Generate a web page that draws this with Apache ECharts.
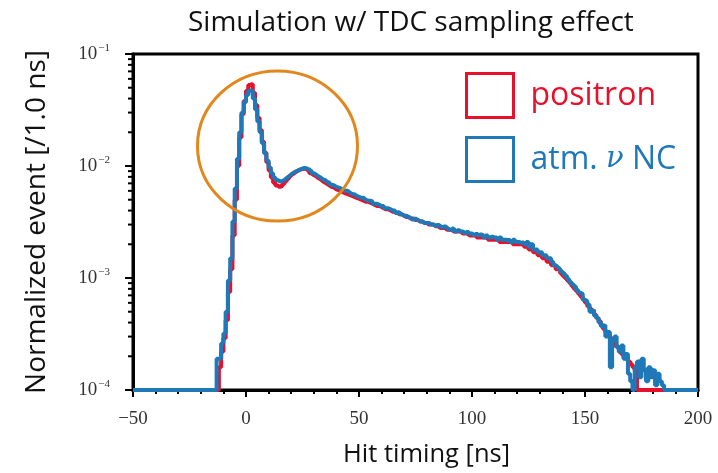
<!DOCTYPE html>
<html><head><meta charset="utf-8">
<script src="https://cdn.jsdelivr.net/npm/echarts@6/dist/echarts.min.js"></script>
<style>html,body{margin:0;padding:0;background:#fff}#c{width:718px;height:473px}</style>
</head><body><div id="c"></div>
<script>
// ---- data (1 ns bins, value = bin content starting at bin lower edge) ----
const xMin = -50, xMax = 200, xInterval = 50;
const yMin = 1e-4, yMax = 1e-1;
const titleText = 'Simulation w/ TDC sampling effect';
const xTitle = 'Hit timing [ns]';
const yTitle = 'Normalized event [/1.0 ns]';
const seriesNames = ['positron', 'atm. ν NC'];

const positronStart = -12;
const positron = [
  1.6e-4, 2.2e-4, 2.9e-4, 4.2e-4, 7.5e-4, 1.2e-3, 2.4e-3, 5.0e-3, 0.0100, 0.018,
  0.029, 0.038, 0.047, 0.053, 0.054, 0.045, 0.035, 0.027, 0.021, 0.0165,
  0.0132, 0.0108, 0.0091, 0.0079, 0.0071, 0.0067, 0.0065, 0.0066, 0.0069, 0.0073,
  0.0077, 0.0081, 0.0085, 0.0088, 0.0091, 0.0093, 0.0094, 0.0095, 0.0093, 0.0090,
  0.0086, 0.0083,
  // 30..
  0.0081, 0.0078, 0.0076, 0.0073, 0.0071, 0.0069, 0.0067, 0.0065, 0.0064, 0.0062,
  0.0061, 0.0060, 0.0058, 0.0057, 0.0056, 0.0055, 0.0054, 0.0053, 0.0052, 0.0051,
  0.0050, 0.0049, 0.0048, 0.0048, 0.0047, 0.0046, 0.0045, 0.0044, 0.0044, 0.0043,
  0.0042, 0.0041, 0.0041, 0.0040, 0.0039, 0.0039, 0.0038, 0.0037, 0.0037, 0.0036,
  0.0035, 0.0035, 0.0034, 0.0034, 0.0033, 0.0033, 0.0032, 0.0032, 0.0031, 0.0031,
  // 80..
  0.0030, 0.0030, 0.0030, 0.0029, 0.0029, 0.0028, 0.0028, 0.0028, 0.0027, 0.0027,
  0.0027, 0.0026, 0.0026, 0.0026, 0.0026, 0.0025, 0.0025, 0.0025, 0.0024, 0.0024,
  0.0024, 0.0024, 0.0023, 0.0023, 0.0023, 0.0023, 0.0023, 0.0022, 0.0022, 0.0022,
  0.0022, 0.0022, 0.0021, 0.0021, 0.0021, 0.0021, 0.0021, 0.0021, 0.0020, 0.0020,
  0.0020, 0.0020, 0.0020, 0.0019, 0.0019, 0.0018, 0.0018, 0.0017, 0.0017, 0.0016,
  // 130..
  0.0016, 0.0015, 0.0015, 0.0014, 0.0014, 0.0013, 0.0013, 0.0012, 0.0012, 0.0011,
  0.00105, 0.0010, 0.00095, 0.00090, 0.00085, 0.00080, 0.00076, 0.00072, 0.00068, 0.00064,
  0.00060, 0.00056, 0.00053, 0.00050, 0.00047, 0.00044, 0.00041, 0.00038, 0.00035, 0.00033,
  0.00031, 0.00029, 0.00027, 0.00025, 0.00024, 0.00022, 0.00021, 0.00020, 0.00019, 0.00018,
  0.00017, 0.00016, 0.00015
];

const ncStart = -13;
const atmNC = [
  1.9e-4, 1.9e-4, 2.6e-4, 3.2e-4, 5.0e-4, 9.5e-4, 1.5e-3, 3.2e-3, 6.3e-3, 0.0116,
  0.020, 0.030, 0.037, 0.043, 0.047, 0.047, 0.040, 0.032, 0.025, 0.020,
  0.016, 0.013, 0.0112, 0.0097, 0.0086, 0.0079, 0.0075, 0.0073, 0.0073, 0.0075,
  0.0078, 0.0081, 0.0084, 0.0087, 0.0089, 0.0091, 0.0093, 0.0095, 0.0096, 0.0095,
  // 27..
  0.0093, 0.0090, 0.0086,
  0.0084, 0.0081, 0.0079, 0.0076, 0.0075, 0.0072, 0.0071, 0.0068, 0.0067, 0.0065,
  0.0064, 0.0063, 0.0061, 0.0060, 0.0060, 0.0058, 0.0056, 0.0056, 0.0054, 0.0053,
  0.0052, 0.0052, 0.0050, 0.0049, 0.0049, 0.0048, 0.0046, 0.0046, 0.0045, 0.0044,
  0.0044, 0.0042, 0.0042, 0.0041, 0.0040, 0.0040, 0.0038, 0.0039, 0.0037, 0.0036,
  0.0036, 0.0035, 0.0034, 0.0033, 0.0034, 0.0033, 0.0032, 0.0032, 0.0031, 0.0031,
  // 80..
  0.0031, 0.0030, 0.0030, 0.0029, 0.0030, 0.0029, 0.0028, 0.0029, 0.0028, 0.0027,
  0.0027, 0.0028, 0.0026, 0.0027, 0.0026, 0.0026, 0.0025, 0.0026, 0.0025, 0.0025,
  0.0024, 0.0025, 0.0024, 0.00245, 0.0024, 0.0023, 0.0024, 0.0023, 0.00235, 0.0023,
  0.0023, 0.0022, 0.0023, 0.0022, 0.0022, 0.00215, 0.0022, 0.0021, 0.0022, 0.0021,
  0.0021, 0.00205, 0.0021, 0.0020, 0.0021, 0.0019, 0.0020, 0.0018, 0.0018, 0.0017,
  // 130..
  0.0017, 0.0016, 0.0016, 0.0015, 0.0015, 0.0014, 0.0013, 0.00125, 0.0012, 0.00115,
  0.0011, 0.00105, 0.00098, 0.00092, 0.00088, 0.00084, 0.00078, 0.00074, 0.00072, 0.00064,
  0.00062, 0.00058, 0.00050, 0.00052, 0.00046, 0.00044, 0.00040, 0.00037, 0.00038, 0.00030,
  0.00033, 0.00016, 0.00028, 0.00030, 0.00024, 0.00022, 0.00025, 0.00019, 0.00021, 0.00014,
  0.00012, 0, 0.00016, 0.00018, 0.00013, 0.00019, 0.00015, 0.00012, 0.00016, 0.00013,
  0.00015, 0.00011, 0.00014, 0.00012, 0.00011
];

// minor tick mantissas for the log axis (2..9 x 10^k)
const yMinorMantissas = [2, 3, 4, 5, 6, 7, 8, 9];
const yMinorExponents = [-4, -3, -2];

// ---- build step-histogram point lists ----
function stepPoints(start, vals) {
  const pts = [[xMin, yMin]];
  vals.forEach((v, i) => pts.push([start + i, v > 0 ? v : yMin]));
  pts.push([start + vals.length, yMin]);
  pts.push([xMax, yMin]);
  return pts;
}
const minorTickValues = [];
yMinorExponents.forEach(e => yMinorMantissas.forEach(m => minorTickValues.push(m * Math.pow(10, e))));

const RED = '#e8102a', BLUE = '#1f78b8', ORANGE = '#e1871d';
const serif = 'Liberation Serif';
const sans = 'Open Sans';
const highlightEllipse = { type: 'ellipse', shape: { cx: 277.5, cy: 146, rx: 80, ry: 75 },
  style: { fill: 'none', stroke: ORANGE, lineWidth: 3 }, z: 10 };

const chart = echarts.init(document.getElementById('c'));
chart.setOption({
  animation: false,
  backgroundColor: '#fff',
  title: {
    text: titleText, left: 183, top: 4,
    textStyle: { fontFamily: sans, fontWeight: 'normal', fontSize: 28, color: '#111' }
  },
  grid: { left: 133, right: 20, top: 54, bottom: 79, show: true, borderColor: '#000', borderWidth: 3 },
  legend: {
    orient: 'vertical', left: 460, top: 67, icon: 'rect', itemWidth: 47, itemHeight: 44, itemGap: 17,
    data: [
      { name: seriesNames[0], itemStyle: { color: 'rgba(0,0,0,0)', borderColor: RED, borderWidth: 3 }, textStyle: { color: RED } },
      { name: seriesNames[1], itemStyle: { color: 'rgba(0,0,0,0)', borderColor: BLUE, borderWidth: 3 }, textStyle: { color: BLUE } }
    ],
    formatter: n => n === seriesNames[1] ? '{a|atm. }{n|ν}{a| NC}' : n,
    textStyle: {
      fontFamily: sans, fontSize: 32, padding: [0, 0, 0, 12],
      rich: {
        a: { color: BLUE, fontFamily: sans, fontSize: 32 },
        n: { color: BLUE, fontFamily: 'DejaVu Serif', fontStyle: 'italic', fontSize: 29 }
      }
    }
  },
  xAxis: {
    type: 'value', min: xMin, max: xMax, interval: xInterval,
    name: xTitle, nameLocation: 'middle', nameGap: 52,
    nameTextStyle: { fontFamily: sans, fontSize: 25.5, color: '#111', padding: [0, 0, 0, 22] },
    axisLine: { show: true, onZero: false, lineStyle: { color: '#000', width: 3 } },
    axisTick: { show: true, length: 7, lineStyle: { color: '#000', width: 2 } },
    minorTick: { show: true, splitNumber: 5, length: 4, lineStyle: { color: '#000', width: 2 } },
    splitLine: { show: false },
    axisLabel: { fontFamily: serif, fontSize: 19, color: '#333', margin: 20,
      formatter: v => String(v).replace('-', '\u2212') }
  },
  yAxis: {
    type: 'log', logBase: 10, min: yMin, max: yMax, interval: 1,
    name: yTitle, nameLocation: 'middle', nameGap: 82, nameRotate: 90,
    nameTextStyle: { fontFamily: sans, fontSize: 28, color: '#111' },
    axisLine: { show: true, onZero: false, lineStyle: { color: '#000', width: 3 } },
    axisTick: { show: true, length: 8, lineStyle: { color: '#000', width: 2 } },
    minorTick: { show: false },
    splitLine: { show: false },
    axisLabel: {
      margin: 23, color: '#333',
      formatter: v => '{b|10}{s|\u2212' + Math.abs(Math.round(Math.log10(v))) + '}',
      rich: {
        b: { fontFamily: serif, fontSize: 19, color: '#333' },
        s: { fontFamily: serif, fontSize: 11, color: '#333', verticalAlign: 'top', padding: [0, 0, 11, 1] }
      }
    }
  },
  graphic: [highlightEllipse],
  series: [
    { name: seriesNames[0], type: 'line', step: 'end', data: stepPoints(positronStart, positron),
      showSymbol: false, clip: false, color: RED, lineStyle: { color: RED, width: 4 }, z: 3 },
    { name: seriesNames[1], type: 'line', step: 'end', data: stepPoints(ncStart, atmNC),
      showSymbol: false, clip: false, color: BLUE, lineStyle: { color: BLUE, width: 4 }, z: 4 }
  ]
});
// log-spaced minor ticks on the y axis, positioned via the axis scale
const gridLeft = chart.convertToPixel({ gridIndex: 0 }, [xMin, yMin])[0];
chart.setOption({
  graphic: [highlightEllipse].concat(minorTickValues.map(v => {
    const y = chart.convertToPixel({ gridIndex: 0 }, [xMin, v])[1];
    return { type: 'line', shape: { x1: gridLeft - 5, y1: y, x2: gridLeft, y2: y },
      style: { stroke: '#000', lineWidth: 2 }, z: 20 };
  }))
});
</script></body></html>
